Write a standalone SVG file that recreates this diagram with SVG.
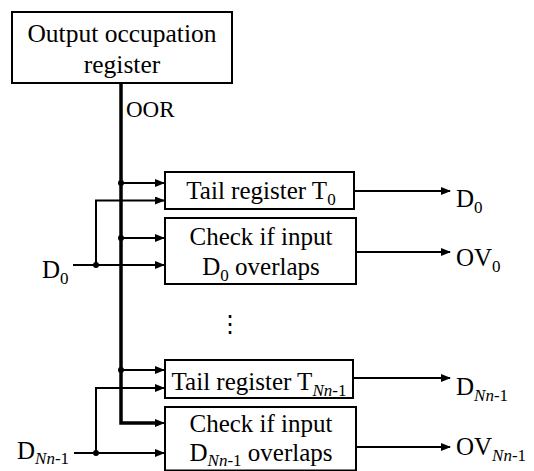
<svg xmlns="http://www.w3.org/2000/svg" width="534" height="471" viewBox="0 0 534 471" font-family="'Liberation Serif', 'Times New Roman', serif">
<style>
text{font-family:'Liberation Serif','Times New Roman',serif;font-size:25px;fill:#000}
.c{text-anchor:middle}
.s{font-size:17px}
.i{font-style:italic}
.box{fill:#fff;stroke:#000;stroke-width:2}
.ln{fill:none;stroke:#000;stroke-width:2}
.bus{fill:none;stroke:#000;stroke-width:3.5}
</style>
<defs>
<marker id="ah" markerWidth="10" markerHeight="8" refX="9" refY="4" orient="auto" markerUnits="userSpaceOnUse">
<path d="M0,0 L10,4 L0,8 Z" fill="#000"/>
</marker>
</defs>
<g id="connectors">
<path class="bus" d="M121,83 V423 H157"/>
<path class="ln" d="M157,423 H164" marker-end="url(#ah)"/>
<path class="ln" d="M121,183 H164" marker-end="url(#ah)"/>
<path class="ln" d="M121,238 H164" marker-end="url(#ah)"/>
<path class="ln" d="M121,370 H164" marker-end="url(#ah)"/>
<path class="ln" d="M73,265 H164" marker-end="url(#ah)"/>
<path class="ln" d="M96,265 V200.5 H164" marker-end="url(#ah)"/>
<path class="ln" d="M74,453 H164" marker-end="url(#ah)"/>
<path class="ln" d="M96,453 V388 H164" marker-end="url(#ah)"/>
<path class="ln" d="M354,191 H450" marker-end="url(#ah)"/>
<path class="ln" d="M356,252 H450" marker-end="url(#ah)"/>
<path class="ln" d="M353,378 H450" marker-end="url(#ah)"/>
<path class="ln" d="M356,447 H450" marker-end="url(#ah)"/>
<circle cx="121" cy="183" r="3"/>
<circle cx="121" cy="238" r="3"/>
<circle cx="121" cy="370" r="3"/>
<circle cx="96" cy="265" r="3"/>
<circle cx="96" cy="453" r="3"/>
<text x="126" y="117" style="font-size:23px">OOR</text>
<text x="42" y="278">D<tspan class="s" dy="6">0</tspan></text>
<text x="17" y="459">D<tspan class="s i" dy="5">Nn</tspan><tspan class="s">-1</tspan></text>
<text x="456" y="207">D<tspan class="s" dy="6">0</tspan></text>
<text x="456" y="266">OV<tspan class="s" dy="6">0</tspan></text>
<text x="456" y="395">D<tspan class="s i" dy="6">Nn</tspan><tspan class="s">-1</tspan></text>
<text x="456" y="455">OV<tspan class="s i" dy="6">Nn</tspan><tspan class="s">-1</tspan></text>
<text x="230" y="332" class="c" style="font-family:'DejaVu Sans',sans-serif;font-size:24px">⋮</text>
</g>
<g id="oor-node">
<rect class="box" x="12" y="12" width="220" height="71"/>
<text x="122" y="42" class="c" style="font-size:25.5px">Output occupation</text>
<text x="122" y="73" class="c" style="font-size:25.5px">register</text>
</g>
<g id="tail0">
<rect class="box" x="165" y="172" width="189" height="37"/>
<text x="261" y="199" class="c">Tail register T<tspan class="s" dy="6">0</tspan></text>
</g>
<g id="check0">
<rect class="box" x="165" y="218" width="191" height="66"/>
<text x="261" y="245" class="c">Check if input</text>
<text x="261" y="275" class="c">D<tspan class="s" dy="6">0</tspan><tspan dy="-6"> overlaps</tspan></text>
</g>
<g id="tailN">
<rect class="box" x="165" y="360" width="188" height="38"/>
<text x="259" y="390" class="c">Tail register T<tspan class="s i" dy="6">Nn</tspan><tspan class="s">-1</tspan></text>
</g>
<g id="checkN">
<rect class="box" x="165" y="407" width="191" height="63.5"/>
<text x="261" y="432" class="c">Check if input</text>
<text x="261" y="461" class="c">D<tspan class="s i" dy="5">Nn</tspan><tspan class="s">-1</tspan><tspan dy="-5"> overlaps</tspan></text>
</g>
</svg>
